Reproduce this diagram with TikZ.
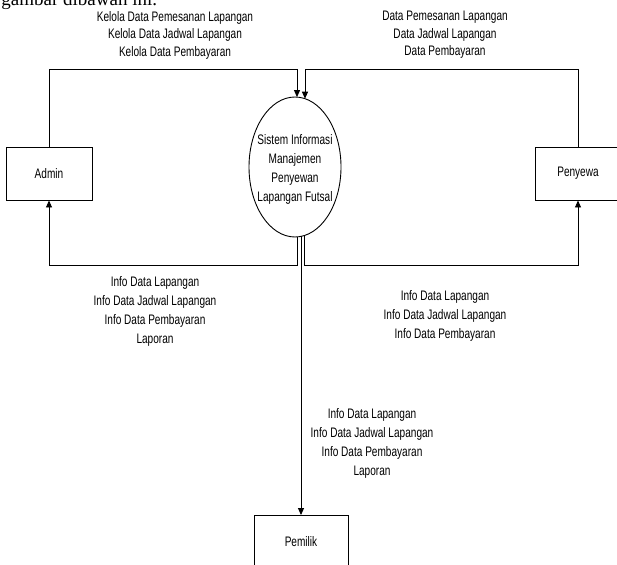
\documentclass[tikz,border=0pt]{standalone}
\usepackage{fontspec}
\setmainfont{Liberation Sans}[FakeStretch=0.73]
\newfontfamily\docfont{Liberation Serif}
\usetikzlibrary{arrows.meta,shapes.geometric}
\begin{document}
\begin{tikzpicture}[x=1pt,y=-1pt, line width=0.9pt,
  lbl/.style={align=center, font=\fontsize{13.8}{19}\selectfont, inner sep=0pt},
  toplbl/.style={align=center, font=\fontsize{13.8}{17.5}\selectfont, inner sep=0pt},
  ent/.style={draw, minimum width=86pt, minimum height=53pt, inner sep=0pt, font=\fontsize{13.8}{15}\selectfont},
  flow/.style={-{Triangle[length=7pt,width=6pt]}},
  ]
\clip (0,0) rectangle (617,564);
\node[anchor=base west, font=\docfont\fontsize{19}{22}\selectfont, inner sep=0pt] (doc) at (1,6) {gambar dibawah ini.};

\node[ent] (admin) at (49,173.5) {Admin};
\node[ent] (penyewa) at (578,173.5) {Penyewa};
\node[ent, minimum width=94pt] (pemilik) at (301,542) {Pemilik};
\node[draw, ellipse, minimum width=92pt, minimum height=140pt, inner sep=0pt] (sys) at (295,167) {};
\node[lbl] (systxt) at (295,169) {Sistem Informasi\\Manajemen\\Penyewan\\Lapangan Futsal};

\coordinate (topy) at (0,69);
\coordinate (boty) at (0,265);
\coordinate (inA) at (297,97.1);
\coordinate (inP) at (305,98.7);
\coordinate (outA) at (297,236.9);
\coordinate (outP) at (304,235.6);
\coordinate (outO) at (301,236.4);

\draw[flow] (admin.north) |- (inA |- topy) -- (inA);
\draw[flow] (penyewa.north) |- (inP |- topy) -- (inP);
\draw[flow] (outA) -- (outA |- boty) -| (admin.south);
\draw[flow] (outP) -- (outP |- boty) -| (penyewa.south);
\draw[flow] (outO) -- (pemilik.north);

\node[toplbl] (l1) at (175,35) {Kelola Data Pemesanan Lapangan\\Kelola Data Jadwal Lapangan\\Kelola Data Pembayaran};
\node[toplbl] (l2) at (445,35) {Data Pemesanan Lapangan\\Data Jadwal Lapangan\\Data Pembayaran};
\node[lbl] (l3) at (155,311.5) {Info Data Lapangan\\Info Data Jadwal Lapangan\\Info Data Pembayaran\\Laporan};
\node[lbl] (l4) at (445,316) {Info Data Lapangan\\Info Data Jadwal Lapangan\\Info Data Pembayaran};
\node[lbl] (l5) at (372,443) {Info Data Lapangan\\Info Data Jadwal Lapangan\\Info Data Pembayaran\\Laporan};
\end{tikzpicture}
\end{document}
